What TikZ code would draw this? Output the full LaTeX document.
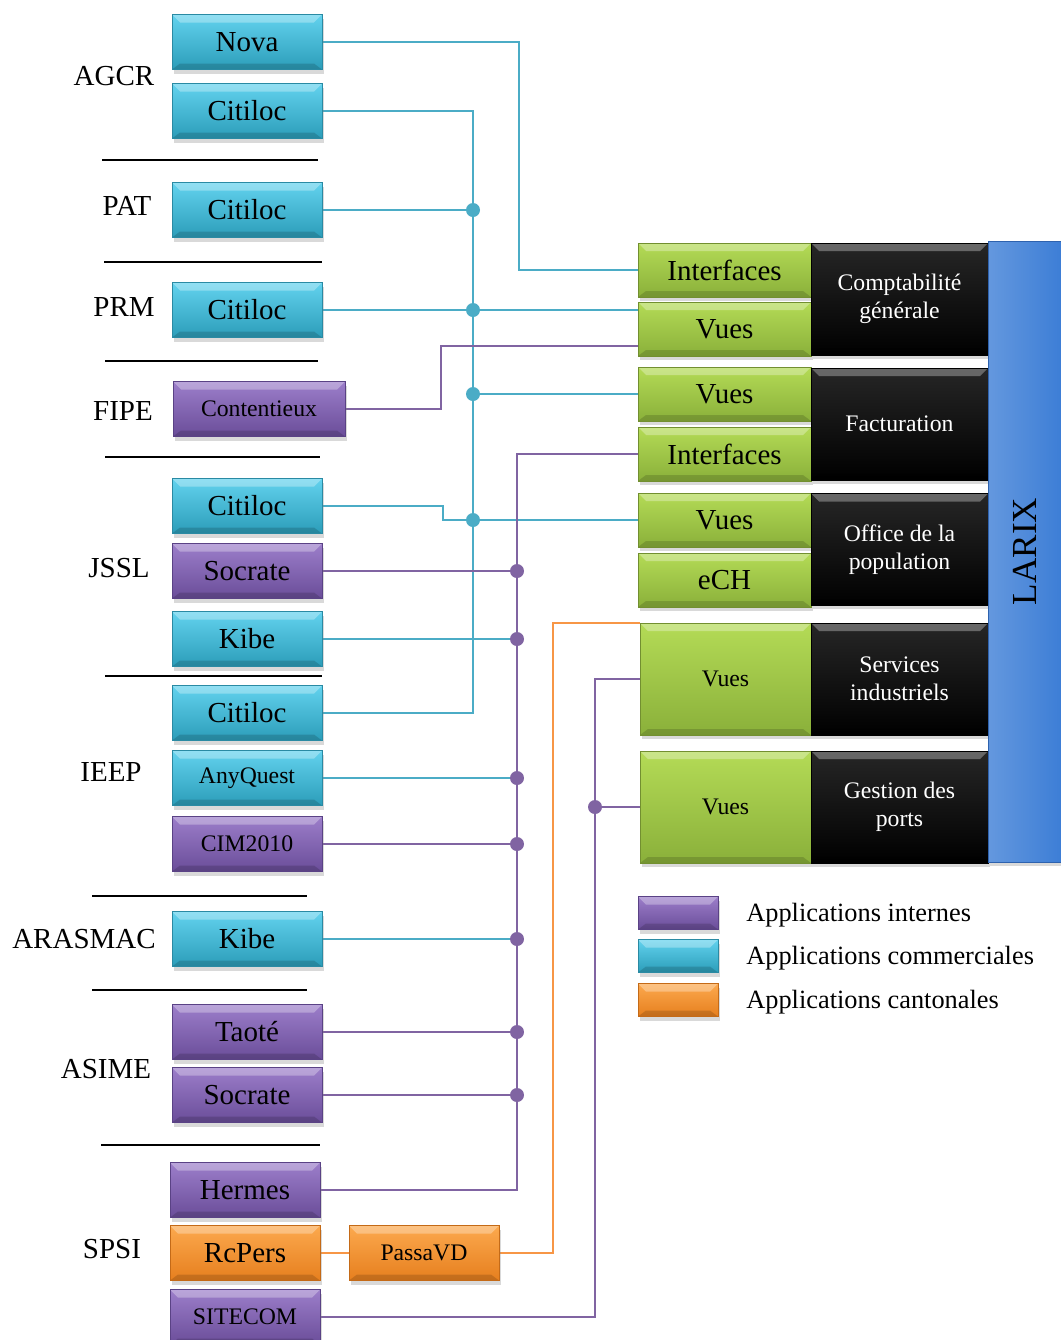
\documentclass[tikz,border=0pt]{standalone}
\usepackage{fontspec}
\setmainfont{Liberation Serif}
\usetikzlibrary{shadows,backgrounds}

\definecolor{comhi}{HTML}{62D2EE}
\definecolor{comlo}{HTML}{2B9DB9}
\definecolor{comdk}{HTML}{2A8AA3}
\definecolor{inthi}{HTML}{9C7ECA}
\definecolor{intlo}{HTML}{6A4D99}
\definecolor{intdk}{HTML}{5A4285}
\definecolor{canhi}{HTML}{FCA94E}
\definecolor{canlo}{HTML}{E67F1E}
\definecolor{candk}{HTML}{C46A17}
\definecolor{vuehi}{HTML}{B4DB56}
\definecolor{vuelo}{HTML}{8AB03A}
\definecolor{vuedk}{HTML}{728F30}
\definecolor{larixc}{HTML}{3D7ED6}
\definecolor{larixdk}{HTML}{2E62AE}
\definecolor{cline}{HTML}{4BACC6}
\definecolor{pline}{HTML}{8064A2}
\definecolor{oline}{HTML}{F79646}

\tikzset{
	bevel/.style={path picture={
		\fill[white, opacity=0.3] (path picture bounding box.north west) -- (path picture bounding box.north east) -- ([shift={(-1.6mm,-1.6mm)}]path picture bounding box.north east) -- ([shift={(1.6mm,-1.6mm)}]path picture bounding box.north west) -- cycle;
		\fill[black, opacity=0.15] (path picture bounding box.south west) -- (path picture bounding box.south east) -- ([shift={(-1.6mm,1.2mm)}]path picture bounding box.south east) -- ([shift={(1.6mm,1.2mm)}]path picture bounding box.south west) -- cycle;
	}},
	box/.style={minimum width=3cm, minimum height=1.1cm, inner sep=0pt, font=\fontsize{16.5}{18}\selectfont, drop shadow={opacity=0.3, shadow xshift=0.4mm, shadow yshift=-0.8mm}, bevel},
	com/.style={box, top color=comhi, bottom color=comlo, draw=comdk},
	int/.style={box, top color=inthi, bottom color=intlo, draw=intdk},
	can/.style={box, top color=canhi, bottom color=canlo, draw=candk},
	small/.style={font=\fontsize{13.5}{15}\selectfont},
}

\begin{document}
\begin{tikzpicture}[x=0.02cm, y=-0.02cm,
		grp/.style={font=\fontsize{16.5}{18}\selectfont, inner sep=0pt},
		sepline/.style={black, line width=1pt},
		vue/.style={box, top color=vuehi, bottom color=vuelo, draw=vuedk, minimum width=3.46cm, minimum height=1.08cm},
		bigvue/.style={minimum width=3.42cm, minimum height=2.24cm, small},
		dept/.style={box, top color=black!85, bottom color=black, draw=black, text=white, minimum width=3.54cm, minimum height=2.24cm, align=center, font=\fontsize{13.5}{16}\selectfont},
		legtext/.style={anchor=west, inner sep=0pt, font=\fontsize{15}{17}\selectfont},
		legbox/.style={minimum width=1.6cm, minimum height=0.66cm},
		cl/.style={cline, line width=1pt},
		pl/.style={pline, line width=1pt},
		ol/.style={oline, line width=1pt},
		cdot/.style={circle, fill=cline, inner sep=0pt, minimum size=2.8mm},
		pdot/.style={circle, fill=pline, inner sep=0pt, minimum size=2.8mm}]
	\useasboundingbox (0,0) rectangle (1061,1340);

	\node[grp] (agcr) at (114,76) {AGCR};
	\node[grp] (pat) at (127,206) {PAT};
	\node[grp] (prm) at (124,307) {PRM};
	\node[grp] (fipe) at (123,411) {FIPE};
	\node[grp] (jssl) at (119,568) {JSSL};
	\node[grp] (ieep) at (111,772) {IEEP};
	\node[grp] (arasmac) at (84,939) {ARASMAC};
	\node[grp] (asime) at (106,1069) {ASIME};
	\node[grp] (spsi) at (112,1249) {SPSI};

	\draw[sepline] (102,160) -- (318,160);
	\draw[sepline] (104,262) -- (322,262);
	\draw[sepline] (105,361) -- (318,361);
	\draw[sepline] (105,457) -- (320,457);
	\draw[sepline] (105,676) -- (322,676);
	\draw[sepline] (92,896) -- (307,896);
	\draw[sepline] (92,990) -- (307,990);
	\draw[sepline] (101,1145) -- (320,1145);

	\node[com] (nova) at (247,42) {Nova};
	\node[com] (citA) at (247,111) {Citiloc};
	\node[com] (citP) at (247,210) {Citiloc};
	\node[com] (citR) at (247,310) {Citiloc};
	\node[int, small, minimum width=3.44cm] (cont) at (259,409) {Contentieux};
	\node[com] (citJ) at (247,506) {Citiloc};
	\node[int] (socJ) at (247,571) {Socrate};
	\node[com] (kibJ) at (247,639) {Kibe};
	\node[com] (citI) at (247,713) {Citiloc};
	\node[com, small] (anyq) at (247,778) {AnyQuest};
	\node[int, small] (cim) at (247,844) {CIM2010};
	\node[com] (kibA) at (247,939) {Kibe};
	\node[int] (taote) at (247,1032) {Taoté};
	\node[int] (socA) at (247,1095) {Socrate};
	\node[int] (hermes) at (245,1190) {Hermes};
	\node[can] (rcpers) at (245,1253) {RcPers};
	\node[int, small] (sitecom) at (245,1317) {SITECOM};
	\node[can, small] (passa) at (424,1253) {PassaVD};

	\node[vue] (ifCG) at (724.5,270) {Interfaces};
	\node[vue] (vCG) at (724.5,329) {Vues};
	\node[vue] (vF) at (724.5,394) {Vues};
	\node[vue] (ifF) at (724.5,454) {Interfaces};
	\node[vue] (vOP) at (724.5,520) {Vues};
	\node[vue] (ech) at (724.5,580) {eCH};
	\node[vue, bigvue] (vSI) at (725.5,679) {Vues};
	\node[vue, bigvue] (vGP) at (725.5,807) {Vues};

	\node[dept] (cg) at (899.5,299) {Comptabilité\\générale};
	\node[dept] (fact) at (899.5,424) {Facturation};
	\node[dept] (op) at (899.5,549.5) {Office de la\\population};
	\node[dept] (si) at (899.5,679) {Services\\industriels};
	\node[dept] (gp) at (899.5,807) {Gestion des\\ports};

	\node[left color=larixc!80, right color=larixc, draw=larixdk, minimum width=1.46cm, minimum height=12.42cm, inner sep=0pt, drop shadow={opacity=0.3, shadow xshift=0.4mm, shadow yshift=-0.8mm}, font=\fontsize{20}{22}\selectfont] (larix) at (1024.5,551.5) {\rotatebox{90}{LARIX}};

	\node[int, legbox] (lint) at (678,913) {};
	\node[com, legbox] (lcom) at (678,956) {};
	\node[can, legbox] (lcan) at (678,1000) {};
	\node[legtext] (tint) at (746,915) {Applications internes};
	\node[legtext] (tcom) at (746,958) {Applications commerciales};
	\node[legtext] (tcan) at (746,1002) {Applications cantonales};

	\coordinate (bc) at (473,0);
	\coordinate (bp) at (517,0);
	\coordinate (bq) at (595,0);
	\coordinate (bo) at (553,0);

	\node[cdot] (jP) at (citP.east -| bc) {};
	\node[cdot] (jR) at (citR.east -| bc) {};
	\node[cdot] (jF) at (vF.west -| bc) {};
	\node[cdot] (jO) at (vOP.west -| bc) {};
	\node[pdot] (kS) at (socJ.east -| bp) {};
	\node[pdot] (kK) at (kibJ.east -| bp) {};
	\node[pdot] (kA) at (anyq.east -| bp) {};
	\node[pdot] (kC) at (cim.east -| bp) {};
	\node[pdot] (kR) at (kibA.east -| bp) {};
	\node[pdot] (kT) at (taote.east -| bp) {};
	\node[pdot] (kX) at (socA.east -| bp) {};
	\node[pdot] (kG) at (vGP.west -| bq) {};

	\begin{scope}[on background layer]
		\draw[cl] (nova.east) -- ++(197,0) |- (ifCG.west);
		\draw[cl] (citA.east) -- (citA.east -| bc) -- (citI.east -| bc) -- (citI.east);
		\draw[cl] (citP.east) -- (jP.center);
		\draw[cl] (citR.east) -- (jR.center) -- (citR.east -| vCG.west);
		\draw[cl] (jF.center) -- (vF.west);
		\draw[cl] (citJ.east) -- ++(121,0) |- (jO.center) -- (vOP.west);
		\draw[cl] (kibJ.east) -- (kK.center);
		\draw[cl] (anyq.east) -- (kA.center);
		\draw[cl] (kibA.east) -- (kR.center);

		\draw[pl] (cont.east) -- ++(96,0) |- ([yshift=-3.4mm]vCG.west);
		\draw[pl] (ifF.west) -| (hermes.east -| bp) -- (hermes.east);
		\draw[pl] (socJ.east) -- (kS.center);
		\draw[pl] (cim.east) -- (kC.center);
		\draw[pl] (taote.east) -- (kT.center);
		\draw[pl] (socA.east) -- (kX.center);
		\draw[pl] (vSI.west) -| (sitecom.east -| bq) -- (sitecom.east);
		\draw[pl] (vGP.west) -- (kG.center);

		\draw[ol] (rcpers.east) -- (passa.west);
		\draw[ol] (passa.east) -| (vSI.north west -| bo) -- (vSI.north west);
	\end{scope}
\end{tikzpicture}
\end{document}
